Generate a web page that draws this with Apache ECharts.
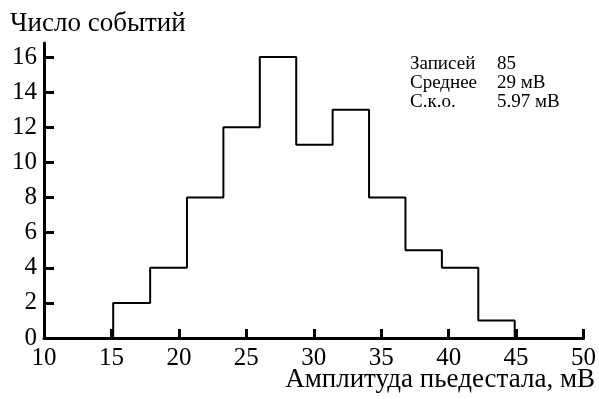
<!DOCTYPE html>
<html><head><meta charset="utf-8">
<script src="https://cdn.jsdelivr.net/npm/echarts@6/dist/echarts.min.js"></script>
<style>html,body{margin:0;padding:0;background:#fff}#c{width:599px;height:399px}</style>
</head><body><div id="c"></div>
<script>
var binEdges = [15.13, 17.87, 20.6, 23.3, 26.0, 28.7, 31.4, 34.1, 36.8, 39.5, 42.2, 44.9];
var counts = [2, 4, 8, 12, 16, 11, 13, 8, 5, 4, 1];
var xTicks = [10, 15, 20, 25, 30, 35, 40, 45, 50];
var yTicks = [0, 2, 4, 6, 8, 10, 12, 14, 16];
var statNames = ['Записей', 'Среднее', 'С.к.о.'];
var statValues = ['85', '29 мВ', '5.97 мВ'];
var yTitle = 'Число событий';
var xTitle = 'Амплитуда пьедестала, мВ';

var pts = [[binEdges[0], 0]];
for (var i = 0; i < counts.length; i++) {
  pts.push([binEdges[i], counts[i]]);
  pts.push([binEdges[i + 1], counts[i]]);
}
pts.push([binEdges[binEdges.length - 1], 0]);

var FONT = '"Liberation Serif", "Times New Roman", serif';
var graphics = [
  {type: 'text', left: 10, top: 10, style: {text: yTitle, font: '27px ' + FONT, fill: '#000'}},
  {type: 'text', right: 4, top: 366, style: {text: xTitle, font: '27px ' + FONT, fill: '#000'}}
];
for (var k = 0; k < statNames.length; k++) {
  graphics.push({type: 'text', left: 410, top: 55 + k * 19, style: {text: statNames[k], font: '19px ' + FONT, fill: '#000'}});
  graphics.push({type: 'text', left: 497, top: 55 + k * 19, style: {text: statValues[k], font: '19px ' + FONT, fill: '#000'}});
}

var chart = echarts.init(document.getElementById('c'), null, {renderer: 'canvas'});
chart.setOption({
  animation: false,
  grid: {left: 44, right: 15, top: 43, bottom: 61},
  xAxis: {
    type: 'value', min: 10, max: 50, interval: 5,
    axisLine: {show: true, onZero: false, lineStyle: {color: '#000', width: 3}},
    axisTick: {show: true, inside: true, length: 9, lineStyle: {color: '#000', width: 3}},
    axisLabel: {color: '#000', fontFamily: FONT, fontSize: 25, margin: 8},
    splitLine: {show: false}
  },
  yAxis: {
    type: 'value', min: 0, max: 16.8, interval: 2,
    axisLine: {show: true, lineStyle: {color: '#000', width: 3}},
    axisTick: {show: true, inside: true, length: 10, lineStyle: {color: '#000', width: 3}, customValues: yTicks},
    axisLabel: {color: '#000', fontFamily: FONT, fontSize: 25, margin: 7, customValues: yTicks},
    splitLine: {show: false}
  },
  series: [{
    type: 'line', data: pts, symbol: 'none', silent: true,
    lineStyle: {color: '#000', width: 2}
  }],
  graphic: graphics
});
</script></body></html>
